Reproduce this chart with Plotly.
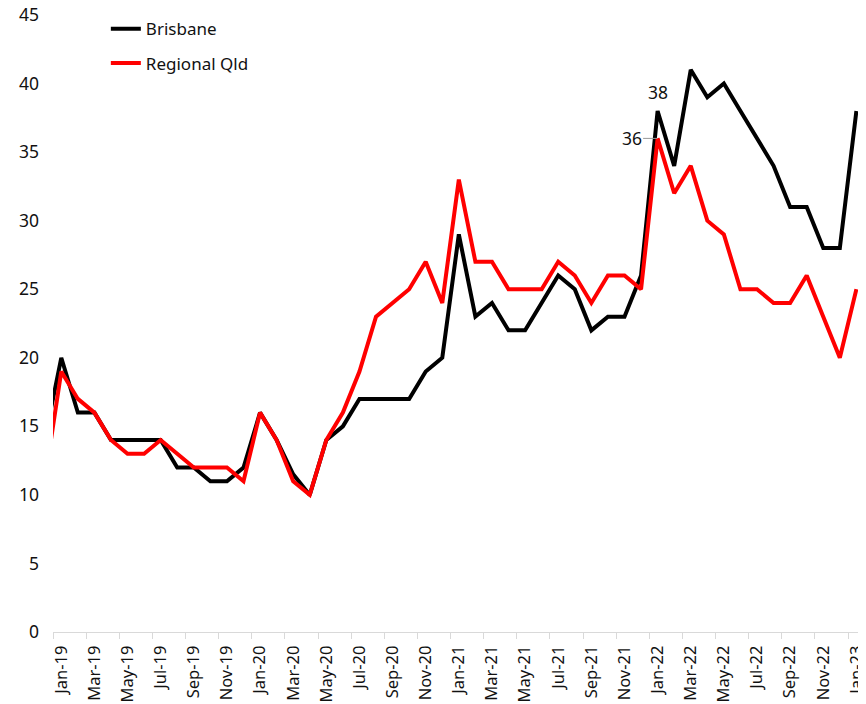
import plotly.graph_objects as go

months = ["Dec-18",
          "Jan-19", "Feb-19", "Mar-19", "Apr-19", "May-19", "Jun-19", "Jul-19", "Aug-19", "Sep-19", "Oct-19", "Nov-19", "Dec-19",
          "Jan-20", "Feb-20", "Mar-20", "Apr-20", "May-20", "Jun-20", "Jul-20", "Aug-20", "Sep-20", "Oct-20", "Nov-20", "Dec-20",
          "Jan-21", "Feb-21", "Mar-21", "Apr-21", "May-21", "Jun-21", "Jul-21", "Aug-21", "Sep-21", "Oct-21", "Nov-21", "Dec-21",
          "Jan-22", "Feb-22", "Mar-22", "Apr-22", "May-22", "Jun-22", "Jul-22", "Aug-22", "Sep-22", "Oct-22", "Nov-22", "Dec-22",
          "Jan-23"]

brisbane = [14,
            20, 16, 16, 14, 14, 14, 14, 12, 12, 11, 11, 12,
            16, 14, 11.5, 10, 14, 15, 17, 17, 17, 17, 19, 20,
            29, 23, 24, 22, 22, 24, 26, 25, 22, 23, 23, 26,
            38, 34, 41, 39, 40, 38, 36, 34, 31, 31, 28, 28,
            38]

regional = [11,
            19, 17, 16, 14, 13, 13, 14, 13, 12, 12, 12, 11,
            16, 14, 11, 10, 14, 16, 19, 23, 24, 25, 27, 24,
            33, 27, 27, 25, 25, 25, 27, 26, 24, 26, 26, 25,
            36, 32, 34, 30, 29, 25, 25, 24, 24, 26, 23, 20,
            25]

yticks = [0, 5, 10, 15, 20, 25, 30, 35, 40, 45]

# index positions: Jan-19 = 0
xidx = [i - 1 for i in range(len(months))]
tick_idx = [i for i in xidx if i >= 0 and i % 2 == 0]
tick_txt = [months[i + 1] for i in tick_idx]
boundary_ticks = [i - 0.5 for i in tick_idx]

FONT = "Noto Sans"
TXT = "#111111"

fig = go.Figure()
fig.add_trace(go.Scatter(x=xidx, y=brisbane, mode="lines", name="Brisbane",
                         line=dict(color="#000000", width=4), legendgroup="a"))
fig.add_trace(go.Scatter(x=xidx, y=regional, mode="lines", name="Regional Qld",
                         line=dict(color="#ff0000", width=4), legendgroup="b"))

i_peak = months.index("Jan-22") - 1
i_last = len(months) - 2
afont = dict(size=17.5, color=TXT, family=FONT)
fig.add_annotation(x=i_peak, y=brisbane[i_peak + 1], text=str(brisbane[i_peak + 1]),
                   showarrow=False, yshift=19, font=afont)
fig.add_annotation(x=i_peak, y=regional[i_peak + 1], text=str(regional[i_peak + 1]),
                   showarrow=True, arrowhead=0, arrowcolor="#999999", arrowwidth=1,
                   ax=-26, ay=0, font=afont)
fig.add_annotation(x=i_last, y=brisbane[-1], text=str(brisbane[-1]), showarrow=False,
                   xanchor="left", xshift=0, font=afont)
fig.add_annotation(x=i_last, y=regional[-1], text=str(regional[-1]), showarrow=False,
                   xanchor="left", xshift=0, font=afont)

fig.update_layout(
    width=858, height=696,
    margin=dict(l=45, r=0, t=7, b=72),
    paper_bgcolor="white", plot_bgcolor="white",
    font=dict(family=FONT, color=TXT, size=17),
    showlegend=True,
    legend=dict(x=0.065, y=1.006, xanchor="left", yanchor="top",
                bgcolor="rgba(0,0,0,0)", font=dict(size=17, family=FONT, color=TXT),
                traceorder="grouped", tracegroupgap=9),
    xaxis=dict(range=[-0.5, 48.58], tickmode="array", tickvals=tick_idx, ticktext=tick_txt,
               tickangle=-90, ticks="", showgrid=False, zeroline=False,
               showline=True, linecolor="#d9d9d9", linewidth=1,
               ticklabelstandoff=6, ticklabeloverflow="allow", automargin=False,
               tickfont=dict(size=16.5, family=FONT, color=TXT),
               minor=dict(tickmode="array", tickvals=boundary_ticks, ticks="outside",
                          ticklen=6, tickcolor="#d9d9d9", tickwidth=1, showgrid=False)),
    yaxis=dict(range=[0, 45], tickmode="array", tickvals=yticks, ticks="",
               showgrid=False, zeroline=False, showline=False,
               ticklabelstandoff=13, ticklabeloverflow="allow", automargin=False,
               tickfont=dict(size=17.5, family=FONT, color=TXT)),
)

fig.write_html("out.html")
